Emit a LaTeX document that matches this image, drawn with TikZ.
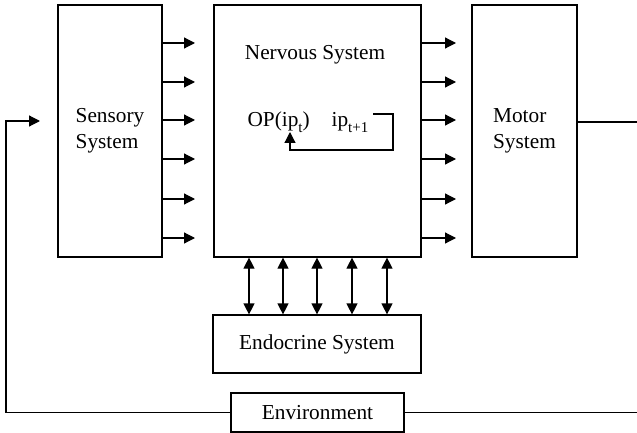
\documentclass[tikz,border=0pt]{standalone}
\usepackage{fontspec}
\setmainfont{Liberation Serif}
\usetikzlibrary{arrows.meta}
% lowered subscript in text
\newcommand{\lowsub}[1]{\raisebox{-0.25em}{\fontsize{15}{15}\selectfont #1}}
\begin{document}
\begin{tikzpicture}[x=1pt,y=-1pt,
  line width=1.2pt,
  txt/.style={font=\fontsize{21.3}{26}\selectfont},
  box/.style={draw, line width=1.2pt, inner sep=0pt, txt},
  flow/.style={-{Triangle[length=11pt,width=11pt]}},
  both/.style={{Triangle[length=11pt,width=11pt]}-{Triangle[length=11pt,width=11pt]}}]
\useasboundingbox (0,0) rectangle (637,433);

% main blocks
\node[box, minimum width=104pt, minimum height=252pt, align=left] (sens) at (110,131) {Sensory\\System};
\node[box, minimum width=207pt, minimum height=252pt] (nerv) at (317.5,131) {};
\node[box, minimum width=105pt, minimum height=252pt, align=left] (motor) at (524.5,131) {Motor\\System};
\node[box, minimum width=208pt, minimum height=58pt] (endo) at (317,344) {Endocrine System};
\node[box, minimum width=173pt, minimum height=39pt, fill=white] (env) at (317.5,412.5) {Environment};

% labels inside the nervous system
\node[txt, inner sep=0pt] (ntitle) at (315,55) {Nervous System};
\node[txt, inner sep=0pt, anchor=base west] (op) at (247,127) {OP(ip\lowsub{t})};
\node[txt, inner sep=0pt, anchor=base west] (ip) at (331,127) {ip\lowsub{t+1}};

% internal recurrence loop
\coordinate (l0) at (373,114);
\coordinate (l1) at (393,114);
\coordinate (l2) at (393,150);
\coordinate (l3) at (290,150);
\coordinate (l4) at (290,132);
\draw[flow] (l0) -- (l1) -- (l2) -- (l3) -- (l4);

% parallel channels
\foreach \y in {43,82,120,159,199,238} {
  \draw[flow] (sens.east |- 0,\y) -- (195,\y);
  \draw[flow] (nerv.east |- 0,\y) -- (456,\y);
}
\foreach \x in {249,283,317,352,387}
  \draw[both] (\x,0 |- nerv.south) -- (\x,0 |- endo.north);

% environment feedback
\coordinate (mout) at (motor.east |- 0,122);
\coordinate (rtop) at (645,122);
\coordinate (rbot) at (645,412.5);
\coordinate (lbot) at (6,412.5);
\coordinate (ltop) at (6,121);
\coordinate (sin) at (40,121);
\draw (mout) -- (rtop) -- (rbot) -- (env.east);
\draw[flow] (env.west) -- (lbot) -- (ltop) -- (sin);
\end{tikzpicture}
\end{document}
